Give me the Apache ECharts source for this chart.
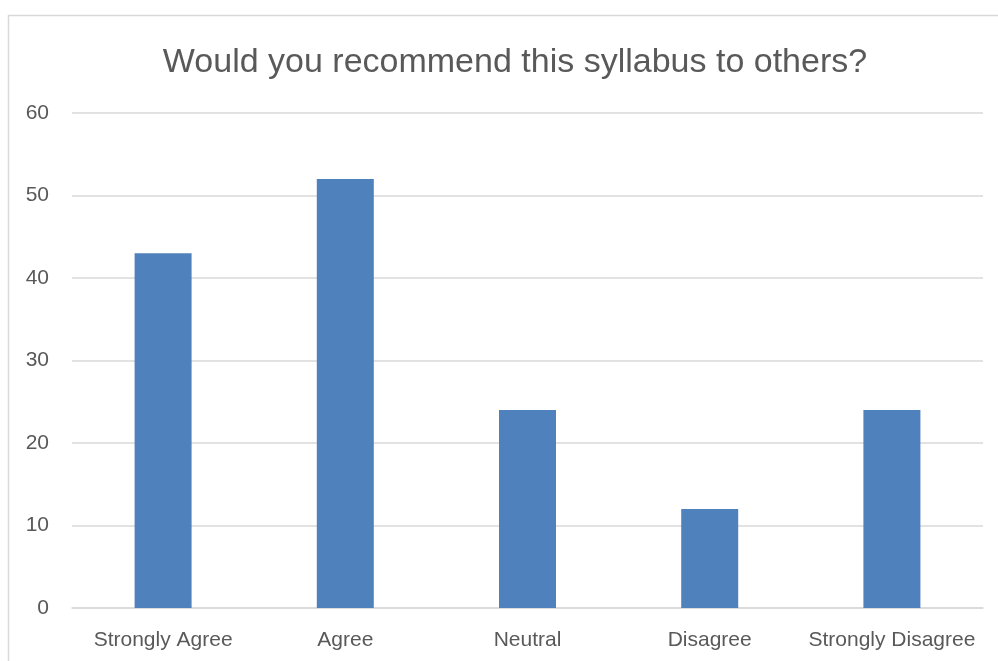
<!DOCTYPE html>
<html>
<head>
<meta charset="utf-8">
<script src="https://cdn.jsdelivr.net/npm/echarts@6/dist/echarts.min.js"></script>
<style>
html,body{margin:0;padding:0;background:#fff;}
#chart{width:998px;height:661px;}
</style>
</head>
<body>
<div id="chart"></div>
<script>
var titleText = 'Would you recommend this syllabus to others?';
var categories = ['Strongly Agree', 'Agree', 'Neutral', 'Disagree', 'Strongly Disagree'];
var values = [43, 52, 24, 12, 24];
var yMin = 0, yMax = 60, yInterval = 10;

var chart = echarts.init(document.getElementById('chart'));
chart.setOption({
  animation: false,
  backgroundColor: '#ffffff',
  textStyle: { fontFamily: 'Liberation Sans, Arial, sans-serif' },
  graphic: [{
    type: 'rect',
    shape: { x: 8.5, y: 15.5, width: 1200, height: 1000 },
    style: { fill: 'none', stroke: '#d9d9d9', lineWidth: 1.5 },
    silent: true
  }],
  title: {
    text: titleText,
    left: 510,
    textAlign: 'center',
    top: 41,
    textStyle: { fontSize: 34, fontWeight: 'normal', color: '#595959', fontFamily: 'Liberation Sans, Arial, sans-serif' }
  },
  grid: { left: 72, right: 15, top: 113, bottom: 53, containLabel: false },
  xAxis: {
    type: 'category',
    data: categories,
    axisLine: { show: true, lineStyle: { color: '#d9d9d9', width: 1.5 } },
    axisTick: { show: false },
    axisLabel: { color: '#595959', fontSize: 21, margin: 22, interval: 0 }
  },
  yAxis: {
    type: 'value',
    min: yMin, max: yMax, interval: yInterval,
    axisLine: { show: false },
    axisTick: { show: false },
    splitLine: { lineStyle: { color: '#d9d9d9', width: 1.5 } },
    axisLabel: { color: '#595959', fontSize: 21, margin: 23 }
  },
  series: [{
    type: 'bar',
    data: values,
    barWidth: 57,
    itemStyle: { color: '#4f81bd' }
  }]
});
</script>
</body>
</html>
